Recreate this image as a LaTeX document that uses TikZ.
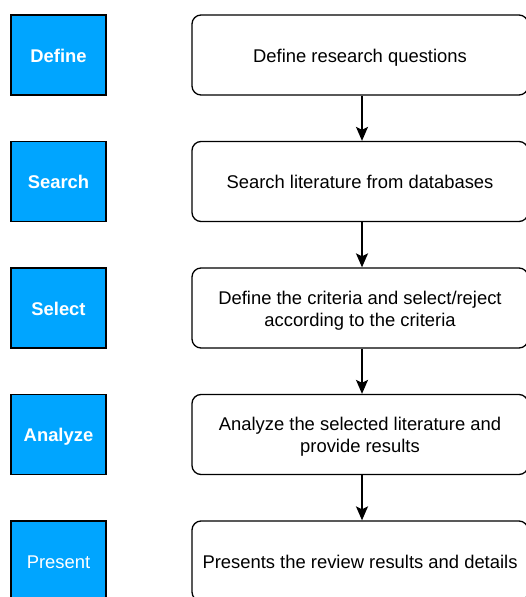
\documentclass[tikz,border=0pt]{standalone}
\usepackage{fontspec}
\setmainfont{Liberation Sans}
\usetikzlibrary{arrows.meta}
\definecolor{stageblue}{RGB}{0,165,255}
\tikzset{
  stagebox/.style={draw=black, line width=1.4pt, fill=stageblue, minimum width=95pt, minimum height=80pt, inner sep=0pt, text height=14.5pt, text depth=0pt, text=white, font=\fontsize{18.4}{22}\selectfont\bfseries, anchor=center},
  taskbox/.style={draw=black, line width=1.3pt, fill=white, rounded corners=9pt, minimum width=336pt, minimum height=80pt, inner sep=0pt, text height=14.5pt, text depth=0pt, align=center, font=\fontsize{18.4}{22}\selectfont, anchor=center},
  twolines/.style={text height=36.5pt},
  flow/.style={line width=1.9pt, -{Stealth[length=14pt,width=12pt,inset=3pt]}}
}
\begin{document}
\begin{tikzpicture}[x=1pt,y=-1pt]
\useasboundingbox (0,0) rectangle (525,597);
\node[stagebox] (s1) at (58.5,55) {Define};
\node[stagebox] (s2) at (58.5,181.5) {Search};
\node[stagebox] (s3) at (58.5,308) {Select};
\node[stagebox] (s4) at (58.5,434.5) {Analyze};
\node[stagebox, font=\fontsize{18.4}{22}\selectfont] (s5) at (58.5,561) {Present};
\node[taskbox] (t1) at (360,55) {Define research questions};
\node[taskbox] (t2) at (360,181.5) {Search literature from databases};
\node[taskbox, twolines] (t3) at (360,308) {Define the criteria and select/reject\\according to the criteria};
\node[taskbox, twolines] (t4) at (360,434.5) {Analyze the selected literature and\\provide results};
\node[taskbox] (t5) at (360,561) {Presents the review results and details};
\draw[flow] ([xshift=2pt]t1.south) -- ([xshift=2pt]t2.north);
\draw[flow] ([xshift=2pt]t2.south) -- ([xshift=2pt]t3.north);
\draw[flow] ([xshift=2pt]t3.south) -- ([xshift=2pt]t4.north);
\draw[flow] ([xshift=2pt]t4.south) -- ([xshift=2pt]t5.north);
\end{tikzpicture}
\end{document}
